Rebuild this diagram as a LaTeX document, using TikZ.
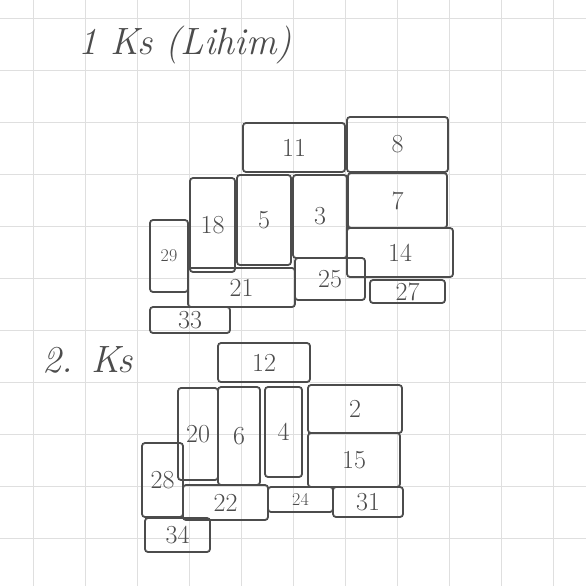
\documentclass[tikz,border=0pt]{standalone}
\usepackage{fontspec}
\usepackage{tikz}
\usetikzlibrary{positioning}

\begin{document}
\begin{tikzpicture}[
  x=1pt, y=-1pt,
  gridline/.style={gray!25, line width=0.7pt},
  blk/.style={draw=gray!60!black, line width=1.8pt, rounded corners=3pt, inner sep=0pt,
    text=gray!60!black, font=\fontsize{26}{28}\selectfont},
  small/.style={font=\fontsize{18}{20}\selectfont},
  head/.style={text=gray!60!black, font=\fontsize{38}{40}\itshape\selectfont}
]
\useasboundingbox (0,0) rectangle (586,586);

% grid paper
\foreach \gx in {33,85,...,553} \draw[gridline] (\gx,0) -- (\gx,586);
\foreach \gy in {18,70,...,538} \draw[gridline] (0,\gy) -- (586,\gy);

% Section 1
\node[head] (h1) at (185,45) {1 Ks (Lihim)};

\node[blk, minimum width=102, minimum height=49] (b11) at (294,147.5) {11};
\node[blk, minimum width=101, minimum height=55] (b8)  at (397.5,144.5) {8};
\node[blk, minimum width=45,  minimum height=94] (b18) at (212.5,225) {18};
\node[blk, minimum width=54,  minimum height=90] (b5)  at (264,220) {5};
\node[blk, minimum width=54,  minimum height=83] (b3)  at (320,216.5) {3};
\node[blk, minimum width=99,  minimum height=55] (b7)  at (397.5,200.5) {7};
\node[blk, minimum width=106, minimum height=49] (b14) at (400,252.5) {14};
\node[blk, small, minimum width=38, minimum height=72] (b29) at (169,256) {29};
\node[blk, minimum width=107, minimum height=39] (b21) at (241.5,287.5) {21};
\node[blk, minimum width=70,  minimum height=42] (b25) at (330,279) {25};
\node[blk, minimum width=75,  minimum height=23] (b27) at (407.5,291.5) {27};
\node[blk, minimum width=80,  minimum height=26] (b33) at (190,320) {33};

% Section 2
\node[head] (h2) at (88,360) {2. Ks};

\node[blk, minimum width=92, minimum height=39] (b12) at (264,362.5) {12};
\node[blk, minimum width=40, minimum height=92] (b20) at (198,434) {20};
\node[blk, minimum width=42, minimum height=98] (b6)  at (239,436) {6};
\node[blk, minimum width=37, minimum height=90] (b4)  at (283.5,432) {4};
\node[blk, minimum width=94, minimum height=48] (b2)  at (355,409) {2};
\node[blk, minimum width=92, minimum height=54] (b15) at (354,460) {15};
\node[blk, minimum width=41, minimum height=74] (b28) at (162.5,480) {28};
\node[blk, minimum width=85, minimum height=35] (b22) at (225.5,502.5) {22};
\node[blk, small, minimum width=65, minimum height=25] (b24) at (300.5,499.5) {24};
\node[blk, minimum width=70, minimum height=30] (b31) at (368,502) {31};
\node[blk, minimum width=65, minimum height=34] (b34) at (177.5,535) {34};

\end{tikzpicture}
\end{document}
